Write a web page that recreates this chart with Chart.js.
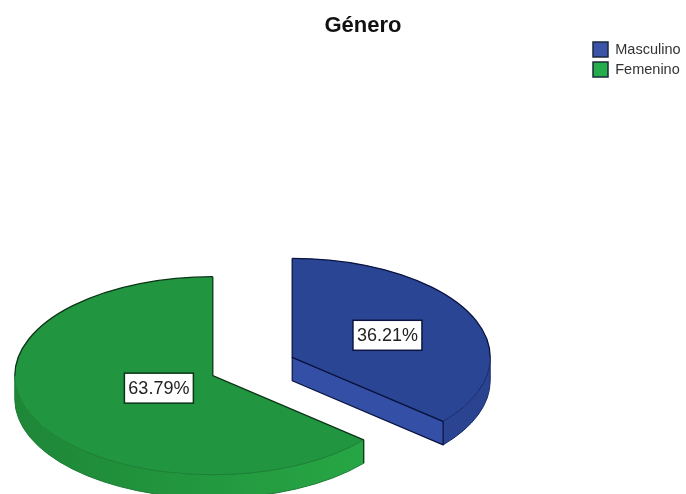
<!DOCTYPE html>
<html>
<head>
<meta charset="utf-8">
<title>Género</title>
<script src="https://cdn.jsdelivr.net/npm/chart.js@4"></script>
<style>
  html, body { margin: 0; padding: 0; background: #fff; }
  canvas { display: block; }
</style>
</head>
<body>
<canvas id="pieChart" width="686" height="494"></canvas>
<script>
var categories = ['Masculino', 'Femenino'];
var percents = [36.21, 63.79];
var chartTitle = 'Género';

var legendColors = ['#3c54a8', '#25ad4b'];
var faceColors = ['#2b4595', '#21953f'];
var wallColors = ['#3450a6', '#24a244'];
var rimLeftColors = ['#3450a6', '#1e8738'];
var rimRightColors = ['#2a4390', '#28aa46'];
var rimEdgeColors = ['#1a2a66', '#1c7d35'];
var edgeColors = ['#0b1440', '#0c3517'];
var labelDistance = [0.53, 0.30];

var squash = 0.5;
var depth = 23.5;

// pie tilted in 3D: the arcs keep the library's angles, only the drawing is flattened
var tiltedPie = {
  id: 'tiltedPie',
  afterLayout: function (chart) {
    var w = 505, top = 239, h = 255;
    chart.chartArea = { left: 0, top: top, right: w, bottom: top + h, width: w, height: h };
    chart.titleBlock.left = 20;
    chart.titleBlock.right = 706;
    chart.titleBlock.top = 13;
    chart.legend.left = 588;
    chart.legend.top = 37;
  },
  beforeDatasetDraw: function (chart) {
    var ctx = chart.ctx;
    chart.getDatasetMeta(0).data.forEach(function (arc, i) {
      var p = slicePos(arc);
      var r = arc.outerRadius, ry = r * squash;
      var s = arc.startAngle, e = arc.endAngle;
      var a0 = Math.max(s, 0), a1 = Math.min(e, Math.PI);

      ctx.save();
      ctx.lineJoin = 'round';

      // outer rim
      if (a1 > a0) {
        var grad = ctx.createLinearGradient(p.x - r, 0, p.x + r, 0);
        grad.addColorStop(0, rimLeftColors[i]);
        grad.addColorStop(1, rimRightColors[i]);
        ctx.beginPath();
        ctx.ellipse(p.x, p.y, r, ry, 0, a0, a1);
        ctx.ellipse(p.x, p.y + depth, r, ry, 0, a1, a0, true);
        ctx.closePath();
        ctx.fillStyle = grad;
        ctx.fill();
        ctx.strokeStyle = rimEdgeColors[i];
        ctx.lineWidth = 1;
        ctx.stroke();

        // vertical edge where the rim meets the cut
        if (a0 > 0) {
          ctx.beginPath();
          ctx.moveTo(p.x + r * Math.cos(a0), p.y + ry * Math.sin(a0));
          ctx.lineTo(p.x + r * Math.cos(a0), p.y + ry * Math.sin(a0) + depth);
          ctx.strokeStyle = edgeColors[i];
          ctx.lineWidth = 1.2;
          ctx.stroke();
        }
      }

      // cut wall, only where it faces the viewer
      if (Math.cos(e) > 0.01) drawWall(ctx, p, r, ry, e, i);
      if (-Math.cos(s) > 0.01) drawWall(ctx, p, r, ry, s, i);

      // top face
      ctx.beginPath();
      ctx.moveTo(p.x, p.y);
      ctx.ellipse(p.x, p.y, r, ry, 0, s, e);
      ctx.closePath();
      ctx.fillStyle = faceColors[i];
      ctx.fill();

      // the lower curve of the face stays soft, the rest is outlined
      ctx.beginPath();
      ctx.ellipse(p.x, p.y, r, ry, 0, a0, a1);
      ctx.strokeStyle = rimEdgeColors[i];
      ctx.lineWidth = 0.8;
      ctx.stroke();

      ctx.beginPath();
      if (s < 0) ctx.ellipse(p.x, p.y, r, ry, 0, s, Math.min(e, 0));
      if (e > Math.PI) ctx.ellipse(p.x, p.y, r, ry, 0, Math.max(s, Math.PI), e);
      ctx.strokeStyle = edgeColors[i];
      ctx.lineWidth = 1.3;
      ctx.stroke();

      ctx.beginPath();
      ctx.moveTo(p.x + r * Math.cos(s), p.y + ry * Math.sin(s));
      ctx.lineTo(p.x, p.y);
      ctx.lineTo(p.x + r * Math.cos(e), p.y + ry * Math.sin(e));
      ctx.stroke();
      ctx.restore();
    });
    return false;
  },
  afterDatasetsDraw: function (chart) {
    var ctx = chart.ctx;
    chart.getDatasetMeta(0).data.forEach(function (arc, i) {
      var p = slicePos(arc);
      var mid = (arc.startAngle + arc.endAngle) / 2;
      var d = arc.outerRadius * labelDistance[i];
      var lx = p.x + Math.cos(mid) * d;
      var ly = p.y + Math.sin(mid) * d * squash;
      var txt = percents[i].toFixed(2) + '%';
      ctx.save();
      ctx.fillStyle = '#fff';
      ctx.strokeStyle = edgeColors[i];
      ctx.lineWidth = 1.5;
      ctx.fillRect(lx - 34.5, ly - 15, 69, 30);
      ctx.strokeRect(lx - 34.5, ly - 15, 69, 30);
      ctx.font = '18px "Liberation Sans", Arial, sans-serif';
      ctx.textAlign = 'center';
      ctx.textBaseline = 'middle';
      ctx.fillStyle = '#222';
      ctx.fillText(txt, lx, ly + 1);
      ctx.restore();
    });
  }
};

function slicePos(arc) {
  var mid = (arc.startAngle + arc.endAngle) / 2;
  var off = arc.options.offset / 4;
  return {
    x: arc.x + Math.cos(mid) * off,
    y: arc.y + Math.sin(mid) * off * squash
  };
}

function drawWall(ctx, p, r, ry, ang, i) {
  var tx = p.x + r * Math.cos(ang), ty = p.y + ry * Math.sin(ang);
  ctx.beginPath();
  ctx.moveTo(p.x, p.y);
  ctx.lineTo(tx, ty);
  ctx.lineTo(tx, ty + depth);
  ctx.lineTo(p.x, p.y + depth);
  ctx.closePath();
  ctx.fillStyle = wallColors[i];
  ctx.fill();
  ctx.strokeStyle = edgeColors[i];
  ctx.lineWidth = 1.2;
  ctx.stroke();
}

var pieChart = new Chart(document.getElementById('pieChart').getContext('2d'), {
  type: 'pie',
  data: {
    labels: categories,
    datasets: [{
      data: percents,
      backgroundColor: legendColors,
      borderColor: '#1a2a3a',
      borderWidth: 1.5,
      offset: 175
    }]
  },
  options: {
    responsive: false,
    animation: false,
    radius: 198,
    plugins: {
      title: {
        display: true,
        text: chartTitle,
        color: '#111',
        padding: 0,
        font: { family: '"Liberation Sans", Arial, sans-serif', size: 22, weight: 'bold' }
      },
      legend: {
        position: 'right',
        align: 'start',
        labels: {
          boxWidth: 15,
          boxHeight: 15,
          padding: 5,
          color: '#333',
          font: { family: '"Liberation Sans", Arial, sans-serif', size: 14.5 }
        }
      },
      tooltip: { enabled: false }
    }
  },
  plugins: [tiltedPie]
});
</script>
</body>
</html>
